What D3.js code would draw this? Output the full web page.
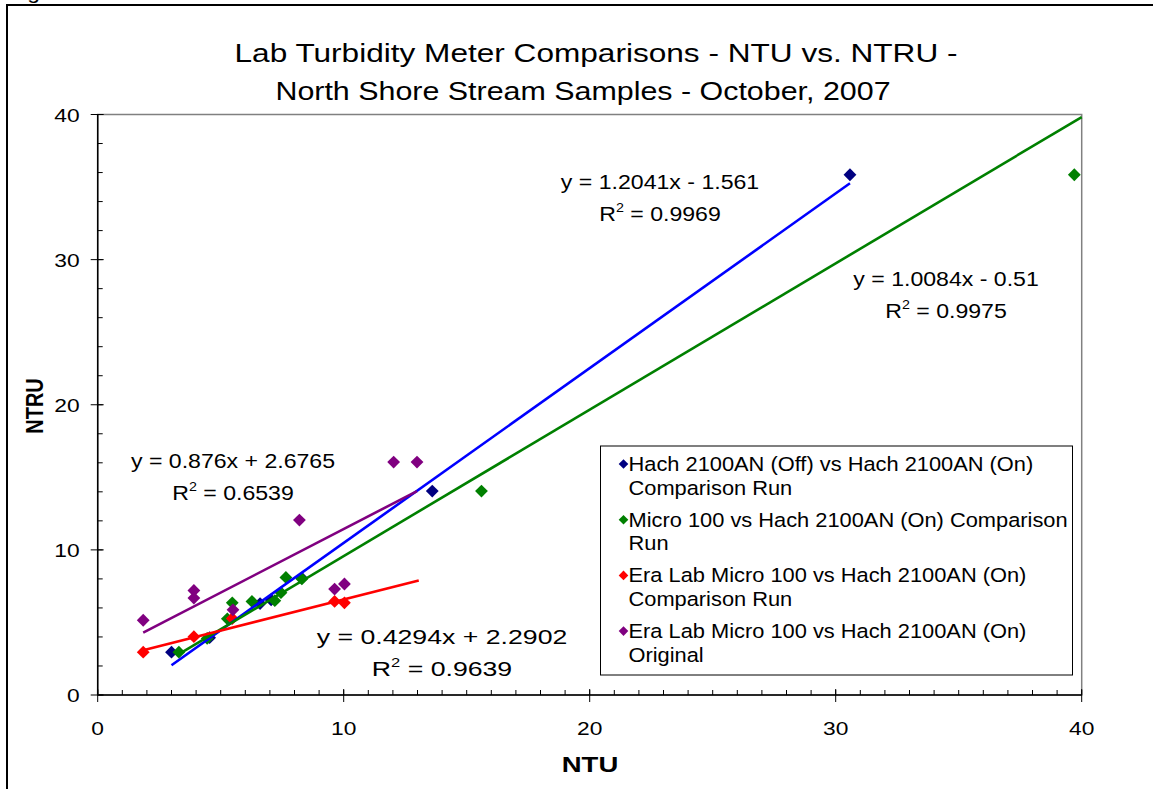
<!DOCTYPE html>
<html><head><meta charset="utf-8">
<script src="https://cdn.jsdelivr.net/npm/d3@7"></script>
<style>body{margin:0;background:#fff;overflow:hidden} svg{display:block} text{font-family:"Liberation Sans",Arial,sans-serif;fill:#000}</style>
</head><body>
<svg id="c" width="1153" height="789"></svg>
<script>
// ---------- data ----------
const titleLines = ["Lab Turbidity Meter Comparisons - NTU vs. NTRU -", "North Shore Stream Samples - October, 2007"];
const xLabel = "NTU";
const yLabel = "NTRU";
const xTicks = [0, 10, 20, 30, 40];
const yTicks = [0, 10, 20, 30, 40];
const seriesNames = [
  ["Hach 2100AN (Off) vs Hach 2100AN (On)", "Comparison Run"],
  ["Micro 100 vs Hach 2100AN (On) Comparison", "Run"],
  ["Era Lab Micro 100 vs Hach 2100AN (On)", "Comparison Run"],
  ["Era Lab Micro 100 vs Hach 2100AN (On)", "Original"]
];
const markerColors = ["#000080", "#008000", "#FF0000", "#800080"];
const trendColors = ["#0000FF", "#008000", "#FF0000", "#800080"];

const hachX = [3.0, 4.55, 6.6, 7.05, 8.3, 13.6, 30.58];
const hachY = [2.95, 3.95, 6.3, 6.55, 8.05, 14.05, 35.85];
const microX = [3.3, 4.45, 5.27, 5.47, 6.27, 7.2, 7.45, 7.65, 8.3, 15.6, 39.7];
const microY = [2.95, 3.9, 5.25, 6.35, 6.45, 6.5, 7.05, 8.1, 8.0, 14.05, 35.85];
const eraRunX = [1.85, 3.91, 5.47, 9.63, 10.03];
const eraRunY = [2.95, 4.02, 5.27, 6.45, 6.35];
const eraOrigX = [1.85, 3.91, 3.91, 5.5, 8.2, 9.63, 10.03, 12.03, 12.98];
const eraOrigY = [5.15, 7.2, 6.68, 5.87, 12.05, 7.3, 7.65, 16.05, 16.05];

const slopes = [1.2041, 1.0084, 0.4294, 0.876];
const intercepts = [-1.561, -0.51, 2.2902, 2.6765];
const trendFrom = [3.0, 3.3, 1.85, 1.85];
const trendTo = [30.58, 40, 13.05, 12.98];
const eqLabels = ["y = 1.2041x - 1.561", "y = 1.0084x - 0.51", "y = 0.4294x + 2.2902", "y = 0.876x + 2.6765"];
const r2Labels = ["0.9969", "0.9975", "0.9639", "0.6539"];

// ---------- layout ----------
const plot = {left: 97.7, right: 1081.7, top: 114.5, bottom: 695};
const eqPos = [[660, 181], [946, 278], [442, 636], [233, 460]];
const eqStretch = [1.1, 1.1, 1.27, 1.1];
const titlePos = [[596, 62, 1.215], [583, 100, 1.17]];
const legendBox = {x: 600.5, y: 446, w: 472, h: 229};

const svg = d3.select("#c");
const x = d3.scaleLinear().domain([0, 40]).range([plot.left, plot.right]);
const y = d3.scaleLinear().domain([0, 40]).range([plot.bottom, plot.top]);

// stretched text helper (the reference is horizontally stretched)
function stext(parent, tx, ty, sx, size, anchor, str, weight) {
  const g = parent.append("g").attr("transform", `translate(${tx},${ty}) scale(${sx},1)`);
  const t = g.append("text").attr("x", 0).attr("y", 0).attr("font-size", size).attr("text-anchor", anchor || "start");
  if (weight) t.attr("font-weight", weight);
  if (str !== null) t.text(str);
  return t;
}

// outer frame
svg.append("rect").attr("x", 7).attr("y", 5).attr("width", 1200).attr("height", 900)
  .attr("fill", "none").attr("stroke", "#000").attr("stroke-width", 2);
stext(svg, 8, -1, 1.15, 20, "start", "Figure");

// plot area border (gray)
svg.append("rect").attr("x", plot.left).attr("y", plot.top)
  .attr("width", plot.right - plot.left).attr("height", plot.bottom - plot.top)
  .attr("fill", "#fff").attr("stroke", "#808080").attr("stroke-width", 1.5);

// title
titleLines.forEach((t, i) => stext(svg, titlePos[i][0], titlePos[i][1], titlePos[i][2], 26, "middle", t));

// axes
const xMinor = d3.range(0, 41, 1);
const yMinor = d3.range(0, 41, 2);
const gx = svg.append("g");
gx.append("line").attr("x1", x(0)).attr("x2", x(40)).attr("y1", y(0)).attr("y2", y(0)).attr("stroke", "#000").attr("stroke-width", 1.5);
gx.selectAll("line.mn").data(xMinor).join("line").attr("class", "mn")
  .attr("x1", d => x(d)).attr("x2", d => x(d)).attr("y1", y(0)).attr("y2", y(0) - 5).attr("stroke", "#000");
gx.selectAll("line.mj").data(xTicks).join("line").attr("class", "mj")
  .attr("x1", d => x(d)).attr("x2", d => x(d)).attr("y1", y(0) - 6).attr("y2", y(0) + 7).attr("stroke", "#000");
xTicks.forEach(d => stext(gx, x(d), y(0) + 40, 1.2, 19, "middle", d));

const gy = svg.append("g");
gy.append("line").attr("x1", x(0)).attr("x2", x(0)).attr("y1", y(0)).attr("y2", y(40)).attr("stroke", "#000").attr("stroke-width", 1.5);
gy.selectAll("line.mn").data(yMinor).join("line").attr("class", "mn")
  .attr("x1", x(0)).attr("x2", x(0) + 5).attr("y1", d => y(d)).attr("y2", d => y(d)).attr("stroke", "#000");
gy.selectAll("line.mj").data(yTicks).join("line").attr("class", "mj")
  .attr("x1", x(0) - 7).attr("x2", x(0) + 6).attr("y1", d => y(d)).attr("y2", d => y(d)).attr("stroke", "#000");
yTicks.forEach(d => stext(gy, x(0) - 18, y(d) + 7, 1.2, 19, "end", d));

stext(svg, 590, 772, 1.25, 22, "middle", xLabel, "bold");
svg.append("text").attr("transform", "translate(43,406) scale(1.2,1) rotate(-90)").attr("text-anchor", "middle")
  .attr("font-size", 20).attr("font-weight", "bold").text(yLabel);

// markers
const seriesData = [[hachX, hachY], [microX, microY], [eraRunX, eraRunY], [eraOrigX, eraOrigY]];
const diamond = r => `M0,${-r}L${r},0L0,${r}L${-r},0Z`;
seriesData.forEach(([xs, ys], i) => {
  svg.append("g").selectAll("path").data(xs.map((v, k) => [v, ys[k]])).join("path")
    .attr("transform", d => `translate(${x(d[0])},${y(d[1])})`)
    .attr("d", diamond(6.4)).attr("fill", markerColors[i]);
});

// trendlines
slopes.forEach((m, i) => {
  const b = intercepts[i];
  svg.append("line")
    .attr("x1", x(trendFrom[i])).attr("y1", y(m * trendFrom[i] + b))
    .attr("x2", x(trendTo[i])).attr("y2", y(m * trendTo[i] + b))
    .attr("stroke", trendColors[i]).attr("stroke-width", 2.6);
});

// equation labels
eqLabels.forEach((t, i) => {
  const [cx, cy] = eqPos[i];
  stext(svg, cx, cy + 8, eqStretch[i], 21, "middle", t);
  const r = stext(svg, cx, cy + 40, eqStretch[i], 21, "middle", null);
  r.append("tspan").text("R");
  r.append("tspan").attr("font-size", 13).attr("dy", -9).text("2");
  r.append("tspan").attr("dy", 9).text(" = " + r2Labels[i]);
});

// legend
svg.append("rect").attr("x", legendBox.x).attr("y", legendBox.y).attr("width", legendBox.w).attr("height", legendBox.h)
  .attr("fill", "#fff").attr("stroke", "#000").attr("stroke-width", 1);
seriesNames.forEach((lines, i) => {
  const cy = 464 + i * 55.7;
  svg.append("path").attr("transform", `translate(623.5,${cy})`).attr("d", diamond(4.8)).attr("fill", markerColors[i]);
  lines.forEach((ln, j) => stext(svg, 628.5, cy + 7 + j * 23.7, 1.12, 19.5, "start", ln));
});
</script>
</body></html>
